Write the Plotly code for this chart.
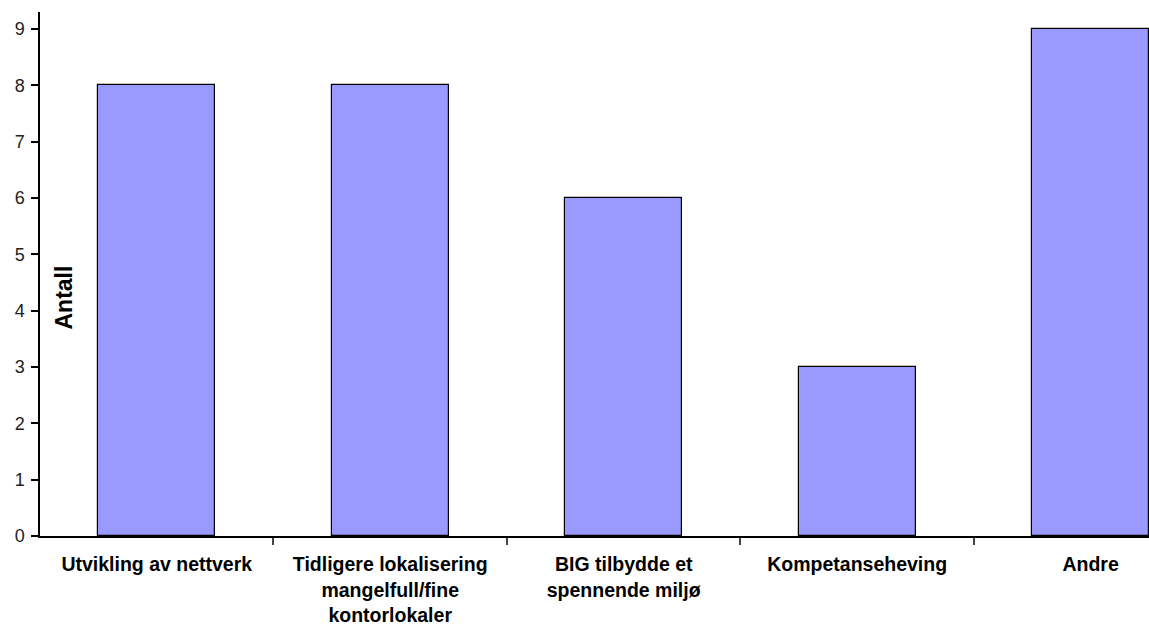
import plotly.graph_objects as go

categories = [
    "Utvikling av nettverk",
    "Tidligere lokalisering<br>mangelfull/fine<br>kontorlokaler",
    "BIG tilbydde et<br>spennende miljø",
    "Kompetanseheving",
    "Andre",
]
values = [8, 8, 6, 3, 9]
y_ticks = [0, 1, 2, 3, 4, 5, 6, 7, 8, 9]
y_title = "Antall"

fig = go.Figure()
fig.add_trace(go.Bar(
    x=list(range(len(categories))),
    y=values,
    width=0.5,
    marker=dict(color="#9999FF", line=dict(color="#000000", width=1.2)),
))

fig.update_layout(
    width=1149, height=627,
    margin=dict(l=40, r=0, t=12, b=91),
    paper_bgcolor="white", plot_bgcolor="white",
    showlegend=False,
    font=dict(family="Liberation Sans, Arial, sans-serif", color="#000"),
    bargap=0,
)
fig.update_xaxes(
    range=[-0.5, 4.25],
    automargin=False,
    tickmode="array",
    tickvals=list(range(len(categories))),
    ticktext=[f"<b>{c}</b>" for c in categories],
    showline=True, linecolor="#000", linewidth=1.5,
    showgrid=False, zeroline=False,
    ticks="", tickfont=dict(size=19.5, color="#000"),
    ticklabelstandoff=10,
)
# boundary tick marks
fig.update_xaxes(minor=dict(tickvals=[0.5, 1.5, 2.5, 3.5], ticks="outside", ticklen=7, tickcolor="#444", tickwidth=1.5))
fig.update_yaxes(
    range=[0, 9.3],
    automargin=False,
    tickmode="array", tickvals=y_ticks, ticktext=[str(v) for v in y_ticks],
    showline=True, linecolor="#000", linewidth=1.5,
    showgrid=False, zeroline=False,
    ticks="outside", ticklen=7, tickcolor="#000", tickwidth=1.5,
    tickfont=dict(size=18, color="#222"),
    ticklabelstandoff=3,
)
fig.add_annotation(
    text=f"<b>{y_title}</b>", textangle=-90,
    xref="paper", yref="paper",
    x=(63.5 - 40) / 1109, y=(536 - 298) / 524,
    showarrow=False, font=dict(size=23, color="#000"),
    xanchor="center", yanchor="middle",
)

fig.write_html("out.html")
